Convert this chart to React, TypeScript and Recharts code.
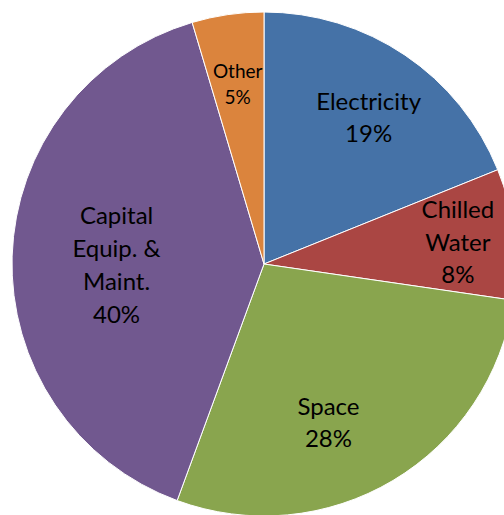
import { PieChart, Pie, Cell } from 'recharts';

const categories = ['Electricity', 'Chilled Water', 'Space', 'Capital Equip. & Maint.', 'Other'];
const shares = [18.9, 8.4, 28.3, 39.8, 4.6];
const labelLines = [
  ['Electricity'],
  ['Chilled', 'Water'],
  ['Space'],
  ['Capital', 'Equip. &', 'Maint.'],
  ['Other'],
];
const colors = ['#4572A7', '#AA4643', '#89A54E', '#71588F', '#DB843D'];

// label placement (fraction of radius, angle tweak in degrees clockwise)
const labelRadius = [0.72, 0.775, 0.675, 0.585, 0.725];
const labelShift = [1.2, 0, 8.5, -1.6, 0];
const labelFont = [24, 24, 24, 24, 19];
const labelLead = [31.5, 32.5, 32, 32.7, 26];

const data = categories.map((name, i) => ({ name, value: shares[i] }));

const RADIAN = Math.PI / 180;

function renderLabel(props: any) {
  const { cx, cy, midAngle, outerRadius, percent, index } = props;
  const ang = midAngle - labelShift[index];
  const r = outerRadius * labelRadius[index];
  const x = cx + r * Math.cos(-ang * RADIAN);
  const y = cy + r * Math.sin(-ang * RADIAN);
  const fs = labelFont[index];
  const lh = labelLead[index];
  const lines = [...labelLines[index], `${Math.round(percent * 100)}%`];
  const top = y - ((lines.length - 1) * lh) / 2;
  return (
    <text
      key={`lbl-${index}`}
      x={x}
      y={top}
      fill="#000"
      textAnchor="middle"
      dominantBaseline="central"
      fontSize={fs}
      fontFamily="Lato, 'Open Sans', sans-serif"
    >
      {lines.map((l, j) => (
        <tspan key={j} x={x} y={top + j * lh}>
          {l}
        </tspan>
      ))}
    </text>
  );
}

export default function App() {
  return (
    <div style={{ position: 'absolute', top: 0, left: 0, width: 504, height: 515, overflow: 'hidden', background: '#fff' }}>
      <PieChart width={504} height={515} margin={{ top: 0, right: 0, bottom: 0, left: 0 }}>
        <Pie
          data={data}
          dataKey="value"
          nameKey="name"
          cx={264}
          cy={264}
          outerRadius={252}
          startAngle={90}
          endAngle={-270}
          stroke="#fff"
          strokeWidth={1}
          label={renderLabel}
          labelLine={false}
          isAnimationActive={false}
        >
          {data.map((d, i) => (
            <Cell key={d.name} fill={colors[i]} />
          ))}
        </Pie>
      </PieChart>
    </div>
  );
}
